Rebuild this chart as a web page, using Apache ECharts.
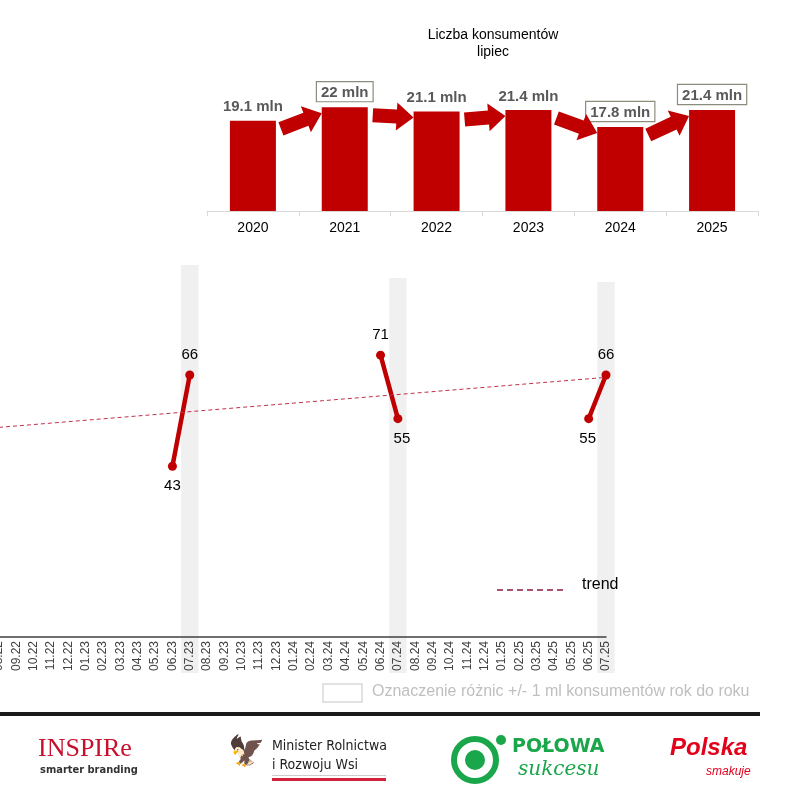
<!DOCTYPE html>
<html><head><meta charset="utf-8">
<script src="https://cdn.jsdelivr.net/npm/echarts@6/dist/echarts.min.js"></script>
<style>html,body{margin:0;padding:0;background:#fff}#c{width:800px;height:800px}</style>
</head><body><div id="c"></div>
<script>
const years = ['2020','2021','2022','2023','2024','2025'];
const consumers = [19.1, 22, 21.1, 21.4, 17.8, 21.4];
const boxedYears = ['2021','2024','2025'];
const months = ['08.22','09.22','10.22','11.22','12.22','01.23','02.23','03.23','04.23','05.23','06.23','07.23',
'08.23','09.23','10.23','11.23','12.23','01.24','02.24','03.24','04.24','05.24','06.24','07.24',
'08.24','09.24','10.24','11.24','12.24','01.25','02.25','03.25','04.25','05.25','06.25','07.25'];
const pointMonths = ['06.23','07.23','06.24','07.24','06.25','07.25'];
const pointValues = [43, 66, 71, 55, 55, 66];
const pointLabelPos = ['bottom','top','top','bottom','bottom','top'];
const bandMonths = ['07.23','07.24','07.25'];
const bandTops = [93.7, 90.4, 89.4];
const trendStart = 52.8, trendEnd = 65.4;

const lineData = months.map(m => {
  const i = pointMonths.indexOf(m);
  if (i < 0) return null;
  return {value: pointValues[i], label: {position: pointLabelPos[i],
    offset: (m==='07.24') ? [4,0] : (m==='06.25' ? [-1,0] : [0,0])}};
});
const RED = '#c00000';
const chart = echarts.init(document.getElementById('c'));
chart.setOption({
  animation: false,
  title: {text: 'Liczba konsumentów\nlipiec', left: 488, top: 22, textAlign: 'center',
    textStyle: {fontFamily: 'Liberation Sans, Arial', fontSize: 14, fontWeight: 'normal', color: '#000', lineHeight: 17}},
  grid: [
    {left: 207, right: 42, top: 93, bottom: 589, outerBoundsMode: 'none', containLabel: false},
    {left: -1, right: 194, top: 240, bottom: 163, outerBoundsMode: 'none', containLabel: false}
  ],
  xAxis: [
    {gridIndex: 0, type: 'category', data: years, axisLine: {lineStyle: {color: '#d9d9d9'}},
     axisTick: {show: true, lineStyle: {color: '#d9d9d9'}},
     axisLabel: {color: '#000', fontSize: 14, margin: 10, fontFamily: 'Liberation Sans, Arial'}},
    {gridIndex: 1, type: 'category', data: months, boundaryGap: false, z: 3,
     axisLine: {lineStyle: {color: '#404040', width: 1.5}}, axisTick: {show: false},
     axisLabel: {rotate: 90, color: '#404040', fontSize: 12, margin: 4, interval: 0, fontFamily: 'Liberation Sans, Arial'}}
  ],
  yAxis: [
    {gridIndex: 0, type: 'value', min: 0, max: 25, show: false},
    {gridIndex: 1, type: 'value', min: 0, max: 100, show: false}
  ],
  series: [
    {type: 'bar', xAxisIndex: 0, yAxisIndex: 0, data: consumers, barWidth: 46,
     itemStyle: {color: RED},
     label: {show: true, position: 'top', distance: 6, fontSize: 15, fontWeight: 'bold', color: '#595959',
       fontFamily: 'Liberation Sans, Arial',
       formatter: p => boxedYears.includes(p.name) ? '{b|' + p.value + ' mln}' : p.value + ' mln',
       rich: {b: {borderColor: '#8c8c7c', borderWidth: 1.2, padding: [3,4,1,4], backgroundColor: '#fff',
         fontSize: 15, fontWeight: 'bold', color: '#595959'}}}},
    {type: 'custom', xAxisIndex: 0, yAxisIndex: 0, z: 5,
     data: consumers.slice(0, -1).map((v, i) => [i, v, consumers[i+1]]),
     renderItem: (params, api) => {
       const i = api.value(0);
       const p0 = api.coord([i, api.value(1)]);
       const p1 = api.coord([i+1, api.value(2)]);
       const x0 = p0[0] + 23 + 5, y0 = p0[1] + 8;
       const x1 = p1[0] - 23, y1 = p1[1] + 6;
       const dx = x1 - x0, dy = y1 - y0, L = Math.hypot(dx, dy);
       const ux = dx / L, uy = dy / L, nx = -uy, ny = ux;
       const hl = 17, sw = 7, hw = 14;
       const bx = x1 - ux*hl, by = y1 - uy*hl;
       const pts = [
         [x0 + nx*sw, y0 + ny*sw], [bx + nx*sw, by + ny*sw], [bx + nx*hw, by + ny*hw], [x1, y1],
         [bx - nx*hw, by - ny*hw], [bx - nx*sw, by - ny*sw], [x0 - nx*sw, y0 - ny*sw]];
       return {type: 'polygon', shape: {points: pts}, style: {fill: RED}};
     }},
    {type: 'custom', xAxisIndex: 1, yAxisIndex: 1, z: -1, clip: false, silent: true,
     data: bandMonths.map((m, i) => [m, bandTops[i]]),
     renderItem: (params, api) => {
       const top = api.coord([api.value(0), api.value(1)]);
       const base = api.coord([api.value(0), 0]);
       const w = api.size([1, 0])[0];
       return {type: 'rect', shape: {x: top[0] - w/2, y: top[1], width: w, height: base[1] - top[1] + 36},
         style: {fill: '#f0f0f0'}};
     }},
    {type: 'line', xAxisIndex: 1, yAxisIndex: 1, data: lineData, connectNulls: false, z: 4,
     lineStyle: {color: RED, width: 4.5}, itemStyle: {color: RED},
     symbol: 'circle', symbolSize: 9,
     label: {show: true, fontSize: 15, color: '#000', distance: 8, fontFamily: 'Liberation Sans, Arial'},
     markLine: {silent: true, symbol: 'none', label: {show: false},
       lineStyle: {color: '#c0304a', type: [4, 3], width: 1},
       data: [[{coord: [months[0], trendStart]}, {coord: [months[months.length-1], trendEnd]}]]}}
  ],
  graphic: [
    {type: 'group', z: 100, children: [
    {type: 'line', shape: {x1: 497, y1: 590, x2: 566, y2: 590}, style: {stroke: '#8b1a3a', lineWidth: 1.5, lineDash: [6, 4]}},
    {type: 'text', x: 582, y: 577, style: {text: 'trend', fontSize: 16, fill: '#000', fontFamily: 'Liberation Sans, Arial'}},
    {type: 'rect', shape: {x: 323, y: 684, width: 39, height: 18}, style: {fill: '#fff', stroke: '#d9d9d9', lineWidth: 1.5}},
    {type: 'text', x: 372, y: 684, style: {text: 'Oznaczenie różnic +/- 1 ml konsumentów rok do roku', fontSize: 16, fill: '#bfbfbf', fontFamily: 'Liberation Sans, Arial'}},
    {type: 'rect', shape: {x: 0, y: 712, width: 760, height: 4}, style: {fill: '#1a1a1a'}},
    {type: 'text', x: 38, y: 736, style: {text: 'INSPIRe', fontSize: 26, fill: '#c8102e', fontFamily: 'Liberation Serif'}},
    {type: 'text', x: 40, y: 765, style: {text: 'smarter branding', fontSize: 11, fill: '#333', fontWeight: 'bold', fontFamily: 'DejaVu Sans Condensed, Liberation Sans'}},
    {type: 'text', x: 228, y: 738, style: {text: '🦅', fontSize: 30, fill: '#aaa'}},
    {type: 'text', x: 272, y: 737, style: {text: 'Minister Rolnictwa\ni Rozwoju Wsi', fontSize: 14, lineHeight: 19, fill: '#222', fontFamily: 'DejaVu Sans Condensed, Liberation Sans'}},
    {type: 'rect', shape: {x: 272, y: 778, width: 114, height: 3}, style: {fill: '#d4213d'}},
    {type: 'rect', shape: {x: 272, y: 775, width: 114, height: 1}, style: {fill: '#ccc'}},
    {type: 'circle', shape: {cx: 475, cy: 760, r: 21}, style: {fill: '#fff', stroke: '#1aa64a', lineWidth: 6}},
    {type: 'circle', shape: {cx: 475, cy: 760, r: 10}, style: {fill: '#1aa64a'}},
    {type: 'circle', shape: {cx: 501, cy: 740, r: 5}, style: {fill: '#1aa64a'}},
    {type: 'text', x: 512, y: 738, style: {text: 'POŁOWA', fontSize: 19, fontWeight: 'bold', fill: '#1aa64a', fontFamily: 'DejaVu Sans'}},
    {type: 'text', x: 518, y: 760, style: {text: 'sukcesu', fontSize: 20, fontStyle: 'italic', fill: '#1aa64a', fontFamily: 'DejaVu Serif'}},
    {type: 'text', x: 670, y: 736, style: {text: 'Polska', fontSize: 24, fontStyle: 'italic', fontWeight: 'bold', fill: '#e3001b', fontFamily: 'Liberation Sans'}},
    {type: 'text', x: 706, y: 766, style: {text: 'smakuje', fontSize: 12, fontStyle: 'italic', fill: '#e3001b', fontFamily: 'Liberation Sans'}}
    ]}
  ]
});
</script></body></html>
